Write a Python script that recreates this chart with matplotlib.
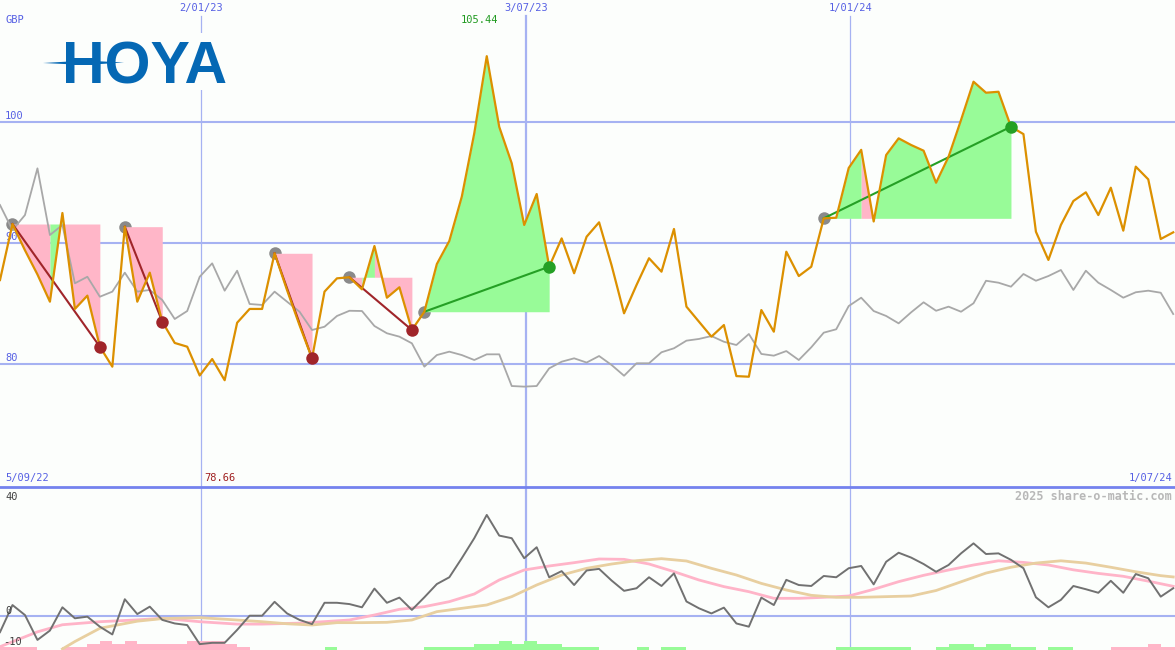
import matplotlib
matplotlib.use("Agg")
import matplotlib.pyplot as plt
from matplotlib.lines import Line2D
from matplotlib.patches import Rectangle, Polygon
from datetime import date
import numpy as np

# ---------------- data ----------------
first_week = date(2022, 9, 11)
end_date = date(2024, 7, 1)
date_lines = ["2/01/23", "3/07/23", "1/01/24"]
left_label = "5/09/22"
right_label = "1/07/24"
currency = "GBP"
high_label = "105.44"
low_label = "78.66"
price_ticks = [80, 90, 100]
osc_ticks = [40, 0, -10]
watermark = "2025 share-o-matic.com"

price = [86.94, 91.57, 89.4, 87.4, 85.15, 92.48, 84.55, 85.65, 81.43, 79.78,
         91.35, 85.15, 87.55, 83.5, 81.74, 81.43, 79.05, 80.41, 78.66, 83.41,
         84.55, 84.55, 89.15, 86.1, 83.2, 80.47, 85.98, 87.08, 87.17, 86.17,
         89.75, 85.48, 86.34, 82.81, 84.32, 88.26, 90.17, 93.83, 99.07, 105.44,
         99.6, 96.59, 91.49, 94.05, 88.04, 90.38, 87.5, 90.52, 91.71, 88.16,
         84.19, 86.53, 88.74, 87.63, 91.16, 84.74, 83.5, 82.26, 83.22, 79.0,
         78.95, 84.46, 82.67, 89.28, 87.27, 88.04, 92.04, 92.09, 96.2, 97.7,
         91.78, 97.27, 98.65, 98.1, 97.63, 94.98, 97.13, 100.17, 103.33, 102.42,
         102.5, 99.61, 99.0, 90.93, 88.6, 91.49, 93.47, 94.19, 92.31, 94.57,
         91.02, 96.31, 95.26, 90.33, 90.88]

relative = [93.14, 91.07, 92.31, 96.17, 90.66, 91.49, 86.67, 87.21, 85.56, 85.98,
            87.55, 85.98, 86.12, 85.29, 83.72, 84.38, 87.21, 88.32, 86.06, 87.71,
            84.96, 84.88, 85.98, 85.15, 84.32, 82.81, 83.08, 83.97, 84.4, 84.38,
            83.14, 82.54, 82.26, 81.71, 79.78, 80.74, 81.02, 80.74, 80.33, 80.8,
            80.8, 78.18, 78.13, 78.18, 79.64, 80.19, 80.47, 80.12, 80.66, 79.92,
            79.03, 80.06, 80.06, 80.97, 81.3, 81.93, 82.07, 82.31, 81.84, 81.57,
            82.48, 80.83, 80.69, 81.07, 80.33, 81.38, 82.59, 82.87, 84.79, 85.48,
            84.38, 83.97, 83.36, 84.27, 85.1, 84.4, 84.74, 84.32, 85.02, 86.88,
            86.72, 86.39, 87.44, 86.88, 87.27, 87.77, 86.12, 87.71, 86.72, 86.12,
            85.48, 85.93, 86.06, 85.89, 84.13]

momentum = [-5.1, 3.3, 0.2, -7.5, -4.6, 2.6, -0.8, -0.3, -3.4, -5.8,
            5.1, 0.5, 2.8, -1.3, -2.4, -2.9, -8.8, -8.4, -8.4, -4.4,
            0.0, 0.0, 4.3, 0.7, -1.3, -2.6, 4.0, 4.0, 3.6, 2.6,
            8.4, 4.0, 5.6, 1.8, 5.7, 9.8, 11.9, 17.8, 24.0, 31.2,
            24.8, 24.0, 17.8, 21.2, 11.9, 13.8, 9.5, 14.0, 14.5, 10.9,
            7.7, 8.5, 11.9, 9.2, 13.1, 4.4, 2.3, 0.7, 2.5, -2.4,
            -3.4, 5.6, 3.3, 11.1, 9.5, 9.2, 12.3, 11.9, 14.7, 15.4,
            9.7, 16.7, 19.5, 18.0, 16.0, 13.6, 15.7, 19.3, 22.4, 19.1,
            19.3, 17.3, 14.7, 5.7, 2.6, 4.9, 9.2, 8.2, 7.1, 10.8,
            7.1, 12.9, 11.6, 5.9, 8.5]

fast_weeks = [0, 3, 5, 8, 11, 13, 16, 19, 21, 24, 26, 28, 30, 32, 34, 36, 38,
              40, 42, 44, 46, 48, 50, 52, 54, 56, 58, 60, 62, 64, 66, 68, 70,
              72, 74, 76, 78, 80, 82, 84, 86, 88, 90, 92, 94]
fast_ma = [-9.6, -5.0, -2.8, -1.86, -1.3, -0.8, -1.86, -2.6, -2.6, -2.3, -1.84,
           -1.33, 0.22, 1.97, 2.8, 4.35, 6.72, 11.06, 14.15, 15.39, 16.42,
           17.56, 17.45, 16.01, 13.64, 11.06, 9.0, 7.44, 5.38, 5.38, 5.69, 6.1,
           8.17, 10.54, 12.5, 14.15, 15.7, 17.0, 16.5, 15.7, 14.2, 13.1, 12.2,
           10.7, 9.1]

slow_weeks = [5, 6, 8, 11, 13, 16, 19, 21, 23, 25, 27, 29, 31, 33, 35, 37, 39,
              41, 43, 45, 47, 49, 51, 53, 55, 57, 59, 61, 63, 65, 67, 69, 71,
              73, 75, 77, 79, 81, 83, 85, 87, 89, 91, 93, 94]
slow_ma = [-10.3, -8.0, -3.9, -1.7, -0.9, -0.6, -1.33, -1.86, -2.5, -2.88, -2.15,
           -2.15, -2.05, -1.33, 1.25, 2.28, 3.32, 5.9, 9.51, 12.6, 14.67, 16.0,
           17.04, 17.66, 16.94, 14.67, 12.6, 10.0, 7.96, 6.31, 5.69, 5.69, 5.9,
           6.1, 7.8, 10.5, 13.2, 15.0, 16.3, 17.0, 16.3, 15.0, 13.6, 12.4, 12.0]

signal = [-1, -1, -1, 0, 0, -1, -1, -2, -3, -2,
          -3, -2, -2, -2, -2, -3, -3, -3, -2, -1,
          0, 0, 0, 0, 0, 0, 1, 0, 0, 0,
          0, 0, 0, 0, 1, 1, 1, 1, 2, 2,
          3, 2, 3, 2, 2, 1, 1, 1, 0, 0,
          0, 1, 0, 1, 1, 0, 0, 0, 0, 0,
          0, 0, 0, 0, 0, 0, 0, 1, 1, 1,
          1, 1, 1, 0, 0, 1, 2, 2, 1, 2,
          2, 1, 1, 0, 1, 1, 0, 0, 0, -1,
          -1, -1, -2, -1, -1]

trade_entry = [1, 10, 22, 28, 34, 66]
trade_exit = [8, 13, 25, 33, 44, 81]

# ---------------- style ----------------
W, H = 1175, 650
SPLIT = 487
BG = "#fcfefc"
GRID = "#a6b2f2"
SEP = "#7482ee"
BLUE_TXT = "#5660e4"
ORANGE = "#dc9000"
GRAY_TOP = "#a8a8a8"
GRAY_OSC = "#717171"
PINK_FILL = "#ffb6c8"
GREEN_FILL = "#98fb98"
PINK_MA = "#ffb4c8"
TAN_MA = "#e8cfa0"
LOSS = "#a0252a"
WIN = "#25a025"
MONO = "DejaVu Sans Mono"

PY0, PY1 = 69.835, 110.083     # price axis limits
OY0, OY1 = -10.62, 39.85       # oscillator axis limits

def to_week(s):
    d, m, y = s.split("/")
    return (date(2000 + int(y), int(m), int(d)) - first_week).days / 7.0

XMAX = (end_date - first_week).days / 7.0
weeks = np.arange(len(price))

fig = plt.figure(figsize=(W / 100, H / 100), dpi=100)
fig.patch.set_facecolor(BG)
ax1 = fig.add_axes([0, (H - SPLIT) / H, 1, SPLIT / H])
ax2 = fig.add_axes([0, 0, 1, (H - SPLIT) / H])
for ax in (ax1, ax2):
    ax.set_facecolor(BG)
    ax.set_xlim(0, XMAX)
    ax.axis("off")
ax1.set_ylim(PY0, PY1)
ax2.set_ylim(OY0, OY1)

def fy1(ypx):  # pixel y -> ax1 axes fraction
    return (SPLIT - ypx) / SPLIT

def fy2(ypx):
    return (H - ypx) / (H - SPLIT)

# grid
for v in price_ticks:
    ax1.axhline(v, color=GRID, lw=1.5, zorder=0.2)
    ax1.text(5 / W, v + 0.5, str(v), transform=ax1.get_yaxis_transform(),
             color=BLUE_TXT, fontsize=7.5, family=MONO, va="center", ha="left", zorder=0.3)
ax2.axhline(0, color=GRID, lw=1.5, zorder=0.2)
for i, lab in enumerate(date_lines):
    xw = to_week(lab)
    lw = 1.6 if i == 1 else 0.9
    ax1.axvline(xw, ymin=0, ymax=fy1(16), color=GRID, lw=lw, zorder=0.2)
    ax2.axvline(xw, color=GRID, lw=lw, zorder=0.2)
    ax1.text(xw, fy1(8), lab, transform=ax1.get_xaxis_transform(), color=BLUE_TXT,
             fontsize=7.5, family=MONO, ha="center", va="center")

# trades: fill between entry price and price, coloured per segment end,
# consecutive same-colour segments merged into one polygon
p = np.array(price)
for e, x in zip(trade_entry, trade_exit):
    ep = p[e]
    ax1.plot([e], [ep], "o", color="#8a8a8a", ms=9, mec="none", zorder=1.0)
    seg_cols = [GREEN_FILL if p[i + 1] >= ep else PINK_FILL for i in range(e, x)]
    start = e
    for j in range(1, len(seg_cols) + 1):
        if j == len(seg_cols) or seg_cols[j] != seg_cols[j - 1]:
            stop = e + j
            xs = np.arange(start, stop + 1)
            ax1.fill_between(xs, ep, p[start:stop + 1], color=seg_cols[j - 1],
                             lw=0, zorder=1.2)
            start = stop
    win = p[x] > ep
    ax1.plot([e, x], [ep, p[x]], color=WIN if win else LOSS, lw=1.5, zorder=2.5)
    ax1.plot([x], [p[x]], "o", color=WIN if win else LOSS, ms=9, mec="none", zorder=3.5)

ax1.plot(weeks, relative, color=GRAY_TOP, lw=1.3, zorder=2)
ax1.plot(weeks, price, color=ORANGE, lw=1.6, zorder=3)

# top panel texts
ax1.text(5 / W, fy1(20), currency, transform=ax1.transAxes, color=BLUE_TXT,
         fontsize=7.5, family=MONO, ha="left", va="center")
imax = int(np.argmax(p))
ax1.text(imax - 0.55, fy1(20), high_label, transform=ax1.get_xaxis_transform(),
         color="#1f9a1f", fontsize=7.5, family=MONO, ha="center", va="center")
ax1.text(5 / W, fy1(478), left_label, transform=ax1.transAxes, color=BLUE_TXT,
         fontsize=7.5, family=MONO, ha="left", va="center")
ax1.text(1172 / W, fy1(478), right_label, transform=ax1.transAxes, color=BLUE_TXT,
         fontsize=7.5, family=MONO, ha="right", va="center")
imin = int(np.argmin(p))
ax1.text(imin - 1.6, fy1(478), low_label, transform=ax1.get_xaxis_transform(),
         color="#a02020", fontsize=7.5, family=MONO, ha="left", va="center")

# logo
ax1.add_patch(Rectangle((38 / W, fy1(90)), 194 / W, 57 / SPLIT, transform=ax1.transAxes,
                        facecolor=BG, edgecolor="none", zorder=4))
ax1.text(62 / W, fy1(83), "HOYA", transform=ax1.transAxes, color="#0568b4",
         fontsize=42.5, family="Liberation Sans", weight="bold", ha="left",
         va="baseline", zorder=5)
flare = [(43, 63), (85, 60.6), (124, 62.5), (85, 65)]
ax1.add_patch(Polygon([(xx / W, fy1(yy)) for xx, yy in flare], closed=True,
                      transform=ax1.transAxes, facecolor="#0568b4", edgecolor="none", zorder=5))

# oscillator panel
ax2.bar(weeks, [abs(s) * 0.93 for s in signal], bottom=OY0, width=1.0, align="edge",
        color=[GREEN_FILL if s > 0 else PINK_FILL for s in signal], lw=0,
        antialiased=False, zorder=1)
ax2.plot(fast_weeks, fast_ma, color=PINK_MA, lw=2.0, zorder=2)
ax2.plot(slow_weeks, slow_ma, color=TAN_MA, lw=2.0, zorder=2)
ax2.plot(weeks, momentum, color=GRAY_OSC, lw=1.4, zorder=3)

ax2.text(5 / W, fy2(497), str(osc_ticks[0]), transform=ax2.transAxes, color="#404040",
         fontsize=7.5, family=MONO, ha="left", va="center")
ax2.text(5 / W, 0, str(osc_ticks[1]), transform=ax2.get_yaxis_transform(), color="#404040",
         fontsize=7.5, family=MONO, ha="left", va="bottom")
ax2.text(3 / W, fy2(642), str(osc_ticks[2]), transform=ax2.transAxes, color="#404040",
         fontsize=7.5, family=MONO, ha="left", va="center")
ax2.text(1172 / W, fy2(496), watermark, transform=ax2.transAxes, color="#b8b8b8",
         fontsize=8.5, family=MONO, weight="bold", ha="right", va="center")

fig.add_artist(Line2D([0, 1], [(H - SPLIT) / H] * 2, color=SEP, lw=2.0,
                      transform=fig.transFigure))

fig.savefig("out.png", dpi=100, facecolor=BG)
